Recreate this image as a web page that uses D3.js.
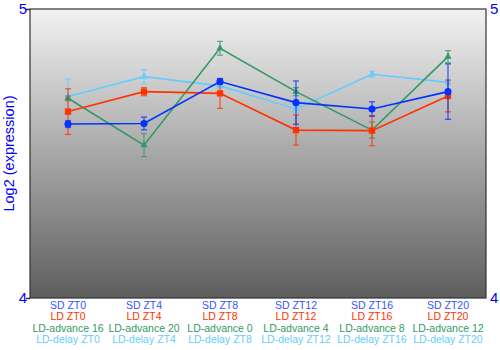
<!DOCTYPE html>
<html>
<head>
<meta charset="utf-8">
<script src="https://cdn.jsdelivr.net/npm/d3@7"></script>
<style>
  html, body { margin: 0; padding: 0; background: #fff; }
  svg { display: block; font-family: "Liberation Sans", Arial, sans-serif; }
</style>
</head>
<body>
<svg id="chart" width="500" height="350"></svg>
<script>
// Time points (one group per column)
const sdLabels = ["SD ZT0", "SD ZT4", "SD ZT8", "SD ZT12", "SD ZT16", "SD ZT20"];
const ldLabels = ["LD ZT0", "LD ZT4", "LD ZT8", "LD ZT12", "LD ZT16", "LD ZT20"];
const advLabels = ["LD-advance 16", "LD-advance 20", "LD-advance 0", "LD-advance 4", "LD-advance 8", "LD-advance 12"];
const delayLabels = ["LD-delay ZT0", "LD-delay ZT4", "LD-delay ZT8", "LD-delay ZT12", "LD-delay ZT16", "LD-delay ZT20"];

// Mean expression (log2) and error per series
const sdValues = [4.602, 4.604, 4.749, 4.676, 4.654, 4.714];
const sdErrors = [0.012, 0.022, 0.010, 0.075, 0.025, 0.096];
const ldValues = [4.645, 4.714, 4.708, 4.581, 4.579, 4.699];
const ldErrors = [0.079, 0.014, 0.052, 0.052, 0.052, 0.055];
const advValues = [4.691, 4.529, 4.864, 4.714, 4.581, 4.835];
const advErrors = [0.008, 0.040, 0.024, 0.014, 0.028, 0.021];
const delayValues = [4.697, 4.766, 4.734, 4.654, 4.774, 4.746];
const delayErrors = [0.061, 0.024, 0.008, 0.034, 0.010, 0.008];

const yTicks = [4, 5];

const series = [
  { name: "LD-delay", values: delayValues, errors: delayErrors, color: "#66ccff", marker: "triangle" },
  { name: "LD-advance", values: advValues, errors: advErrors, color: "#339966", marker: "triangle" },
  { name: "LD", values: ldValues, errors: ldErrors, color: "#ff3300", marker: "square" },
  { name: "SD", values: sdValues, errors: sdErrors, color: "#0033ff", marker: "circle" }
];

const margin = { top: 9, right: 14, bottom: 52, left: 30 };
const width = 500, height = 350;
const svg = d3.select("#chart");

const x = d3.scaleBand().domain(d3.range(sdLabels.length))
  .range([margin.left, width - margin.right]);
const y = d3.scaleLinear().domain([4, 5]).range([height - margin.bottom, margin.top]);

// Background gradient of the plot panel
const defs = svg.append("defs");
const grad = defs.append("linearGradient").attr("id", "bg").attr("x1", 0).attr("x2", 0).attr("y1", 0).attr("y2", 1);
grad.append("stop").attr("offset", "0%").attr("stop-color", "#f2f2f2");
grad.append("stop").attr("offset", "100%").attr("stop-color", "#5e5e5e");

svg.append("rect")
  .attr("x", margin.left).attr("y", margin.top)
  .attr("width", width - margin.right - margin.left)
  .attr("height", height - margin.bottom - margin.top)
  .attr("fill", "url(#bg)")
  .attr("stroke", "#333").attr("stroke-width", 1.2);

// Left and right axes
const leftAxis = d3.axisLeft(y).tickValues(yTicks).tickFormat(d3.format("d")).tickSize(4);
const gl = svg.append("g").attr("transform", `translate(${margin.left},0)`).call(leftAxis);
const rightAxis = d3.axisRight(y).tickValues(yTicks).tickFormat(d3.format("d")).tickSize(0);
const gr = svg.append("g").attr("transform", `translate(${width - margin.right},0)`).call(rightAxis);
[gl, gr].forEach(g => {
  g.select(".domain").remove();
  g.selectAll(".tick line").attr("stroke", "#333").attr("stroke-width", 1.5);
  g.selectAll(".tick text").attr("fill", "#0000ff").attr("font-size", 15)
    .attr("font-family", "Liberation Sans, Arial, sans-serif");
});
gl.selectAll(".tick text").attr("x", -3);
gr.selectAll(".tick text").attr("x", 4);

// Y axis title
svg.append("text")
  .attr("transform", `translate(14,${(margin.top + height - margin.bottom) / 2}) rotate(-90)`)
  .attr("text-anchor", "middle")
  .attr("fill", "#0000ff")
  .attr("font-size", 14.5)
  .text("Log2 (expression)");

// Category labels under the panel
const labelRows = [
  { labels: sdLabels, color: "#3355ff" },
  { labels: ldLabels, color: "#ff3300" },
  { labels: advLabels, color: "#339966" },
  { labels: delayLabels, color: "#66ccff" }
];
labelRows.forEach((row, r) => {
  svg.append("g").selectAll("text").data(row.labels).join("text")
    .attr("x", (d, i) => x(i) + x.bandwidth() / 2)
    .attr("y", height - margin.bottom + 11 + r * 11.4)
    .attr("text-anchor", "middle")
    .attr("fill", row.color)
    .attr("font-size", 10.5)
    .text(d => d);
});

const cx = i => x(i) + x.bandwidth() / 2;
const line = d3.line().x((d, i) => cx(i)).y(d => y(d));

series.forEach(s => {
  const g = svg.append("g");
  // error bars
  const eb = g.append("g").attr("stroke", s.color).attr("stroke-width", 1.3).attr("opacity", 0.75);
  s.values.forEach((v, i) => {
    const e = s.errors[i];
    eb.append("line").attr("x1", cx(i)).attr("x2", cx(i)).attr("y1", y(v - e)).attr("y2", y(v + e));
    eb.append("line").attr("x1", cx(i) - 3).attr("x2", cx(i) + 3).attr("y1", y(v - e)).attr("y2", y(v - e));
    eb.append("line").attr("x1", cx(i) - 3).attr("x2", cx(i) + 3).attr("y1", y(v + e)).attr("y2", y(v + e));
  });
  g.append("path").datum(s.values)
    .attr("d", line).attr("fill", "none")
    .attr("stroke", s.color).attr("stroke-width", 1.6);
  const sym = s.marker === "circle" ? d3.symbolCircle : s.marker === "square" ? d3.symbolSquare : d3.symbolTriangle;
  const size = s.marker === "triangle" ? 22 : 40;
  g.selectAll(".m").data(s.values).join("path")
    .attr("transform", (d, i) => `translate(${cx(i)},${y(d)})`)
    .attr("d", d3.symbol().type(sym).size(size))
    .attr("fill", s.color);
});
</script>
</body>
</html>
